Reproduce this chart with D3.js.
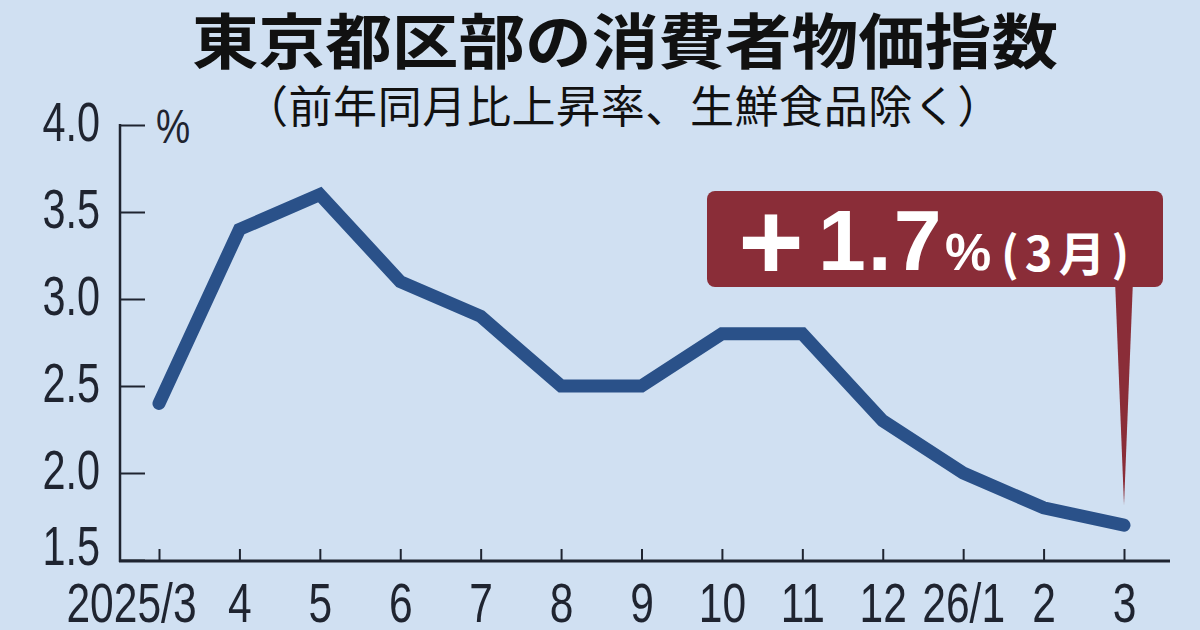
<!DOCTYPE html>
<meta charset="utf-8">
<script src="https://d3js.org/d3.v7.min.js"></script>
<style>
  body { margin: 0; background: #d0e0f2; }
  svg { display: block; }
</style>
<div id="chart"></div>
<script>

// months on the x axis
var months = ["2025/3", "4", "5", "6", "7", "8", "9", "10", "11", "12", "26/1", "2", "3"]
// CPI ex fresh food, y/y %
var values = [2.4, 3.4, 3.6, 3.1, 2.9, 2.5, 2.5, 2.8, 2.8, 2.3, 2.0, 1.8, 1.7]
var yTicks = [1.5, 2.0, 2.5, 3.0, 3.5, 4.0]

var width = 1200, height = 630
var bg = "#d0e0f2", ink = "#1f2430", lineColor = "#2a5189", boxColor = "#8a2d38"
var numFont = "'Liberation Sans', Arial, sans-serif"
var jpFont = "'Noto Sans CJK JP', sans-serif"

var svg = d3.select("#chart").append("svg")
  .attr("width", width)
  .attr("height", height)

svg.append("rect").attr("width", width).attr("height", height).attr("fill", bg)

// title + subtitle
svg.append("text")
  .attr("x", 625).attr("y", 37)
  .attr("text-anchor", "middle")
  .attr("dominant-baseline", "central")
  .attr("textLength", 866).attr("lengthAdjust", "spacingAndGlyphs")
  .style("font-family", jpFont).style("font-weight", 700).style("font-size", "60px")
  .attr("fill", "#111")
  .text("東京都区部の消費者物価指数")

svg.append("text")
  .attr("x", 623).attr("y", 104)
  .attr("text-anchor", "middle")
  .attr("dominant-baseline", "central")
  .style("font-family", jpFont).style("font-weight", 400).style("font-size", "44px")
  .style("letter-spacing", "0.6px")
  .attr("fill", "#111")
  .text("（前年同月比上昇率、生鮮食品除く）")

// scales
var x = d3.scalePoint().domain(months).range([159, 1124])
var y = d3.scaleLinear().domain([1.5, 4.0]).range([560, 125])

// y axis (ticks point inward)
var yAxis = svg.append("g")
  .attr("transform", "translate(120,0)")
  .call(d3.axisLeft(y).tickValues(yTicks).tickFormat(d3.format(".1f")).tickSize(-25).tickPadding(20))

yAxis.select(".domain").remove()
yAxis.selectAll(".tick line").attr("stroke", ink).attr("stroke-width", 2)
yAxis.selectAll(".tick text")
  .attr("x", null).attr("dy", null)
  .attr("transform", function(d) { return "translate(-20," + (d == 1.5 ? 4 : 15) + ") scale(0.74,1)" })
  .attr("fill", ink)
  .style("font-family", numFont).style("font-size", "56px")

svg.append("line")
  .attr("x1", 120).attr("x2", 120).attr("y1", 124).attr("y2", 562)
  .attr("stroke", ink).attr("stroke-width", 2.5)

svg.append("text")
  .attr("transform", "translate(156,143) scale(0.8,1)")
  .attr("fill", ink)
  .style("font-family", numFont).style("font-size", "48px")
  .text("%")

// x axis (ticks point inward)
var xAxis = svg.append("g")
  .attr("transform", "translate(0,561)")
  .call(d3.axisBottom(x).tickSize(-12).tickSizeOuter(0))

xAxis.select(".domain").remove()
xAxis.selectAll(".tick line").attr("stroke", ink).attr("stroke-width", 2)
xAxis.selectAll(".tick text")
  .attr("y", null).attr("dy", null)
  // the first label is nudged left so it clears "4"
  .attr("transform", function(d, i) { return "translate(" + (i == 0 ? -28 : 0) + ",61) scale(0.76,1)" })
  .attr("fill", ink)
  .style("font-family", numFont).style("font-size", "56px")

svg.append("line")
  .attr("x1", 119).attr("x2", 1170).attr("y1", 561).attr("y2", 561)
  .attr("stroke", ink).attr("stroke-width", 3)

// the line
var line = d3.line()
  .x(function(d, i) { return x(months[i]) })
  .y(function(d) { return y(d) })

svg.append("path")
  .datum(values)
  .attr("d", line)
  .attr("fill", "none")
  .attr("stroke", lineColor)
  .attr("stroke-width", 13)
  .attr("stroke-linecap", "round")
  .attr("stroke-linejoin", "miter")

// callout for the latest month
var lastX = x(months[months.length - 1])
var lastY = y(values[values.length - 1])

svg.append("path")
  .attr("d", "M" + (lastX - 9) + ",280 L" + (lastX + 9) + ",280 L" + lastX + "," + (lastY - 20) + " Z")
  .attr("fill", boxColor)

svg.append("rect")
  .attr("x", 707).attr("y", 191)
  .attr("width", 456).attr("height", 96)
  .attr("rx", 8)
  .attr("fill", boxColor)

svg.append("text")
  .attr("x", 771).attr("y", 280)
  .attr("text-anchor", "middle")
  .attr("fill", "#fff")
  .style("font-family", numFont).style("font-weight", 700).style("font-size", "112px")
  .text("+")

var label = svg.append("text")
  .attr("y", 270)
  .attr("fill", "#fff")
  .style("font-weight", 700)

label.append("tspan")
  .attr("x", 818)
  .style("font-family", numFont).style("font-size", "86px")
  .style("letter-spacing", "2px")
  .text("1.7")

label.append("tspan")
  .attr("x", 945)
  .style("font-family", numFont).style("font-size", "52px")
  .text("%")

label.append("tspan")
  .attr("x", 1001).attr("dy", 1)
  .style("font-family", jpFont).style("font-size", "47px")
  .style("letter-spacing", "6px")
  .text("(3月)")

</script>
